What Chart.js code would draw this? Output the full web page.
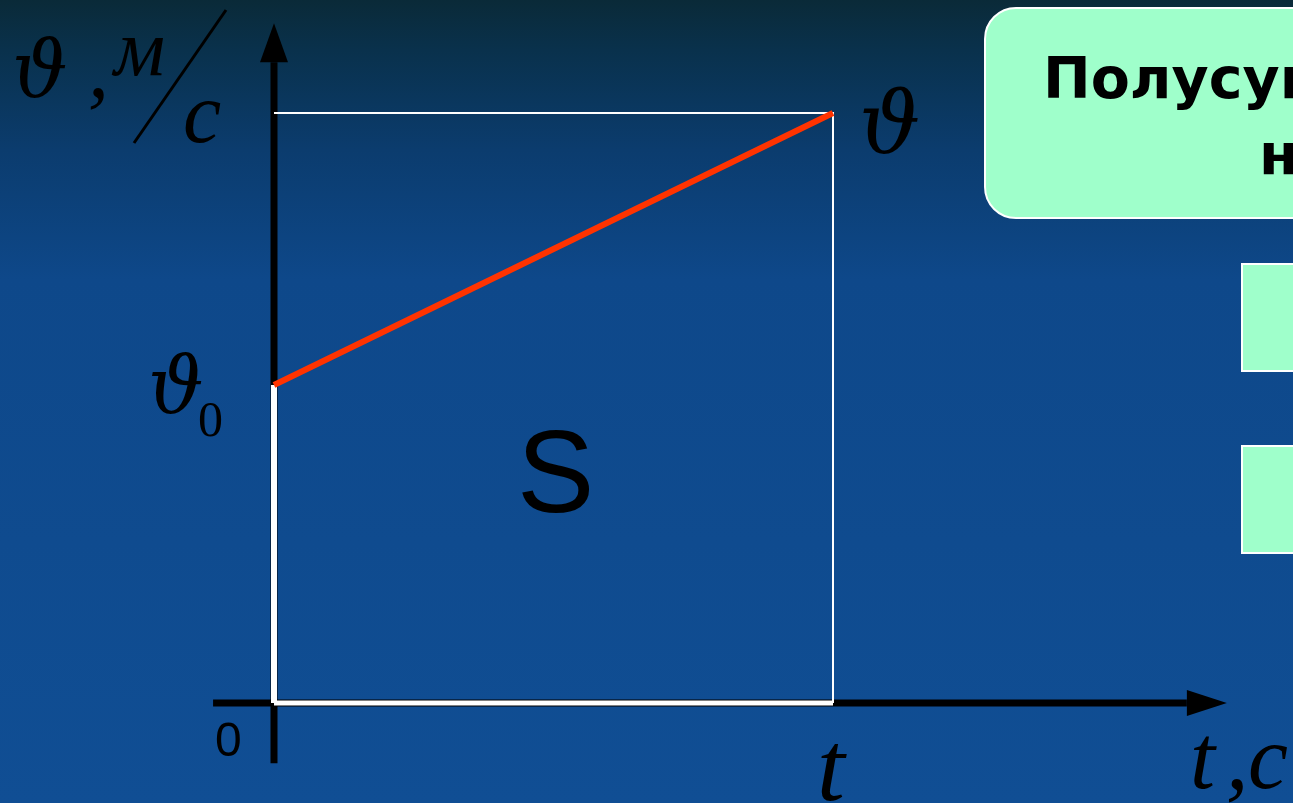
<!DOCTYPE html>
<html lang="ru">
<head>
<meta charset="UTF-8">
<title>График скорости</title>
<script src="https://cdn.jsdelivr.net/npm/chart.js"></script>
<style>
  body {
    margin: 0;
    width: 1293px;
    height: 803px;
    overflow: hidden;
    position: relative;
    background: linear-gradient(to bottom, #0a2a38 0px, #09314c 50px, #0b3c6e 150px, #0e488a 280px, #104e94 803px);
  }
  #wrap { position: absolute; left: 0; top: 0; width: 1293px; height: 803px; }
  .note {
    position: absolute;
    left: 984px; top: 7px;
    width: 420px; height: 208px;
    background: #9fffcb;
    border: 2px solid #ffffff;
    border-radius: 32px;
  }
  .note div {
    position: absolute;
    white-space: nowrap;
    font: bold 57px "Comic Sans MS", "DejaVu Sans", sans-serif;
    line-height: 76px;
    color: #000;
  }
  .tile {
    position: absolute;
    left: 1241px;
    width: 80px; height: 105px;
    background: #9fffcb;
    border: 2px solid #ffffff;
  }
</style>
</head>
<body>
<div id="wrap"><canvas id="graph"></canvas></div>
<div class="note">
  <div style="left:57px; top:31px;">Полусумма начальной и конечной</div>
  <div style="left:273px; top:107px;">начальной и конечной скоростей</div>
</div>
<div class="tile" style="top:263px;"></div>
<div class="tile" style="top:445px;"></div>

<script>
// values (units: t from 0 to 10, speed axis 0..10)
const timePoints = [0, 10];          // 0 and t
const speedPoints = [5.39, 10];      // v0 and v
const xAxisLine = [-1.09, 16.33];    // horizontal axis, up to arrow base
const yAxisLine = [-1.02, 10.86];    // vertical axis, up to arrow base
const xView = [-4.9016, 18.229];
const yView = [-1.695, 11.915];

const t = timePoints[1];
const v0 = speedPoints[0];
const v = speedPoints[1];

// axes arrowheads and text labels
const slidePlugin = {
  id: 'slide',
  afterDatasetsDraw(chart) {
    const ctx = chart.ctx;
    const xs = chart.scales.x, ys = chart.scales.y;
    ctx.save();
    ctx.fillStyle = '#000';

    // arrow on x axis
    let bx = xs.getPixelForValue(xAxisLine[1]), by = ys.getPixelForValue(0);
    ctx.beginPath();
    ctx.moveTo(bx, by - 13);
    ctx.lineTo(bx + 40, by);
    ctx.lineTo(bx, by + 13);
    ctx.closePath();
    ctx.fill();

    // arrow on y axis
    bx = xs.getPixelForValue(0); by = ys.getPixelForValue(yAxisLine[1]);
    ctx.beginPath();
    ctx.moveTo(bx - 14, by);
    ctx.lineTo(bx, by - 39);
    ctx.lineTo(bx + 14, by);
    ctx.closePath();
    ctx.fill();

    // slash in the unit
    ctx.strokeStyle = '#000';
    ctx.lineWidth = 3;
    ctx.beginPath();
    ctx.moveTo(226, 10);
    ctx.lineTo(134, 143);
    ctx.stroke();

    const serifI = "'Liberation Serif', 'DejaVu Serif', serif";
    const theta = "italic 78px 'DejaVu Serif', serif";
    const labels = [
      { text: 'ϑ', font: theta, x: 12, y: 97 },
      { text: ',', font: 'italic 84px ' + serifI, x: 88, y: 97 },
      { text: 'м', font: 'italic 80px ' + serifI, x: 114, y: 75 },
      { text: 'c', font: 'italic 86px ' + serifI, x: 183, y: 142 },
      { text: 'ϑ', font: theta, x: xs.getPixelForValue(0) - 126, y: ys.getPixelForValue(v0) + 28 },
      { text: '0', font: "50px 'Liberation Serif', serif", x: xs.getPixelForValue(0) - 76, y: ys.getPixelForValue(v0) + 51 },
      { text: 'ϑ', font: "italic 86px 'DejaVu Serif', serif", x: xs.getPixelForValue(t) + 26, y: ys.getPixelForValue(v) + 40 },
      { text: 'S', font: '116px "Liberation Sans", Arial, sans-serif', x: 517, y: 512 },
      { text: '0', font: '48px "Liberation Sans", Arial, sans-serif', x: 215, y: 756 },
      { text: 't', font: 'italic 100px ' + serifI, x: xs.getPixelForValue(t) - 16, y: 800 },
      { text: 't', font: 'italic 90px ' + serifI, x: 1190, y: 788 },
      { text: ',', font: 'italic 90px ' + serifI, x: 1226, y: 788 },
      { text: 'c', font: 'italic 90px ' + serifI, x: 1248, y: 788 }
    ];
    ctx.textAlign = 'left';
    ctx.textBaseline = 'alphabetic';
    labels.forEach(l => {
      ctx.font = l.font;
      ctx.fillText(l.text, l.x, l.y);
    });
    ctx.restore();
  }
};

const lineStyle = { showLine: true, pointRadius: 0, fill: false, tension: 0 };

new Chart(document.getElementById('graph'), {
  type: 'scatter',
  data: {
    datasets: [
      // red speed line
      Object.assign({
        data: timePoints.map((x, i) => ({ x: x, y: speedPoints[i] })),
        borderColor: '#ff3300', borderWidth: 6, order: 0
      }, lineStyle),
      // thick white segment from 0 to v0
      Object.assign({
        data: [{ x: 0, y: 0 }, { x: 0, y: v0 }],
        borderColor: '#ffffff', borderWidth: 6, order: 1
      }, lineStyle),
      // white bottom of area
      Object.assign({
        data: [{ x: 0, y: 0 }, { x: t, y: 0 }],
        borderColor: '#ffffff', borderWidth: 5, order: 2
      }, lineStyle),
      // thin white frame: top and right
      Object.assign({
        data: [{ x: 0, y: v }, { x: t, y: v }, { x: t, y: 0 }],
        borderColor: '#ffffff', borderWidth: 2, order: 3
      }, lineStyle),
      // axes
      Object.assign({
        data: [{ x: xAxisLine[0], y: 0 }, { x: xAxisLine[1], y: 0 }],
        borderColor: '#000000', borderWidth: 7, order: 4
      }, lineStyle),
      Object.assign({
        data: [{ x: 0, y: yAxisLine[0] }, { x: 0, y: yAxisLine[1] }],
        borderColor: '#000000', borderWidth: 7, order: 5
      }, lineStyle)
    ]
  },
  options: {
    responsive: true,
    maintainAspectRatio: false,
    animation: false,
    layout: { padding: 0 },
    plugins: { legend: { display: false }, tooltip: { enabled: false } },
    scales: {
      x: { type: 'linear', min: xView[0], max: xView[1], display: false },
      y: { type: 'linear', min: yView[0], max: yView[1], display: false }
    }
  },
  plugins: [slidePlugin]
});
</script>
</body>
</html>
